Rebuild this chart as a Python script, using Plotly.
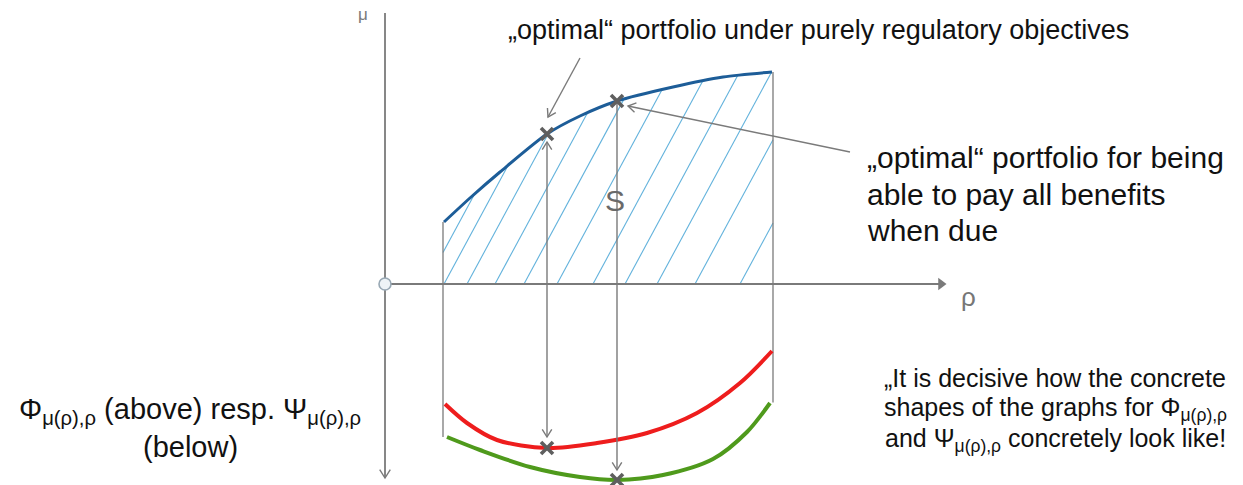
import numpy as np
import plotly.graph_objects as go

# Efficient frontier mu(rho) and the two objective curves (schematic units)
rho_blue = [5.9, 8.5, 11.5, 16.2, 19.5, 23.2, 28.8, 33.8, 38.7]
mu_blue = [6.2, 8.6, 11.2, 15.0, 16.8, 18.3, 19.7, 20.7, 21.2]

rho_red = [6.0, 8.2, 11.2, 16.2, 21.2, 26.2, 31.2, 35.5, 38.7]
phi_red = [-12.0, -13.9, -15.6, -16.4, -15.9, -14.9, -12.9, -9.9, -6.7]

rho_green = [6.2, 9.5, 14.5, 19.5, 23.2, 27.8, 32.8, 36.2, 38.5]
psi_green = [-15.3, -16.6, -18.3, -19.3, -19.6, -19.1, -17.5, -14.8, -11.9]

# optimal portfolios
rho_reg = 16.2   # minimum of Phi (regulatory objective)
rho_pay = 23.2   # minimum of Psi (paying all benefits)

# hatching of the admissible set S
hatch_starts = [4.1, 5.9, 8.2, 11.0, 13.9, 17.2, 20.8, 24.0, 27.2, 31.0, 35.5]
hatch_slope = 1.85

GRAY = "#7a7a7a"
DARK = "#5f5f5f"
FONT = "Liberation Sans, Arial, sans-serif"

fig = go.Figure()


def seg(xs, ys, color=GRAY, width=1.4):
    fig.add_trace(go.Scatter(x=xs, y=ys, mode="lines", hoverinfo="skip",
                             line=dict(color=color, width=width), showlegend=False))


def chevron(tip, frm, size=0.9, ang=32, color=GRAY, width=1.4):
    d = np.array(tip, float) - np.array(frm, float)
    d /= np.linalg.norm(d)
    pts = []
    for a in (ang, -ang):
        r = np.radians(a)
        rot = np.array([d[0] * np.cos(r) - d[1] * np.sin(r),
                        d[0] * np.sin(r) + d[1] * np.cos(r)])
        pts.append(np.array(tip) - size * rot)
    seg([pts[0][0], tip[0], pts[1][0]], [pts[0][1], tip[1], pts[1][1]], color, width)


def arrow(start, tip, **kw):
    seg([start[0], tip[0]], [start[1], tip[1]], **kw)
    chevron(tip, start, **kw)


xL, xR = 5.8, 38.8
fine = np.linspace(0, 40, 4001)
for x0 in hatch_starts:
    xs = x0 + fine
    ys = hatch_slope * fine
    ok = (xs >= xL) & (xs <= xR) & (ys <= np.interp(xs, rho_blue, mu_blue))
    if ok.any():
        idx = np.where(ok)[0]
        seg([xs[idx[0]], xs[idx[-1]]], [ys[idx[0]], ys[idx[-1]]], "#62b2dc", 1.1)

# axes
seg([0, 0], [27.1, -19.4], GRAY, 1.8)
chevron((0, -19.4), (0, 0), size=1.0)
seg([0, 55.5], [0, 0], GRAY, 2.0)
fig.add_trace(go.Scatter(x=[55.6], y=[0], mode="markers", hoverinfo="skip", showlegend=False,
                         marker=dict(symbol="triangle-right", size=11, color=GRAY)))
fig.add_trace(go.Scatter(x=[0], y=[0], mode="markers", hoverinfo="skip", showlegend=False,
                         marker=dict(symbol="circle", size=12, color="#eef3f6",
                                     line=dict(color="#98a8b4", width=1.6))))

# borders of S
seg([xL, xL], [mu_blue[0], psi_green[0]], GRAY, 1.3)
seg([xR, xR], [mu_blue[-1], psi_green[-1] + 0.05], GRAY, 1.3)

# curves
fig.add_trace(go.Scatter(x=rho_blue, y=mu_blue, mode="lines",
                         line=dict(color="#1d5d98", width=3, shape="spline", smoothing=0.8),
                         hoverinfo="skip", showlegend=False))
fig.add_trace(go.Scatter(x=rho_red, y=phi_red, mode="lines",
                         line=dict(color="#ee1d1d", width=4, shape="spline", smoothing=0.9),
                         hoverinfo="skip", showlegend=False))
fig.add_trace(go.Scatter(x=rho_green, y=psi_green, mode="lines",
                         line=dict(color="#4f9a1c", width=4, shape="spline", smoothing=0.9),
                         hoverinfo="skip", showlegend=False))

mu_reg = float(np.interp(rho_reg, rho_blue, mu_blue))
mu_pay = float(np.interp(rho_pay, rho_blue, mu_blue))
phi_min = float(np.interp(rho_reg, rho_red, phi_red))
psi_min = float(np.interp(rho_pay, rho_green, psi_green))

# connecting arrows between frontier and objective minima
seg([rho_reg, rho_reg], [mu_reg - 0.8, phi_min + 1.1])
chevron((rho_reg, mu_reg - 0.8), (rho_reg, 0))
chevron((rho_reg, phi_min + 1.1), (rho_reg, 0))
seg([rho_pay, rho_pay], [mu_pay, psi_min + 1.0])
chevron((rho_pay, psi_min + 1.0), (rho_pay, 0))

fig.add_trace(go.Scatter(x=[rho_reg, rho_pay, rho_reg, rho_pay],
                         y=[mu_reg, mu_pay, phi_min, psi_min],
                         mode="markers", hoverinfo="skip", showlegend=False,
                         marker=dict(symbol="x-thin", size=12, line=dict(color=DARK, width=3.6))))

# pointer arrows from the labels
arrow((19.5, 22.6), (16.3, 16.7))
arrow((46.5, 13.2), (24.3, 17.8))

annos = [
    dict(x=43.3, y=25.4, text="\u201eoptimal\u201c portfolio under purely regulatory objectives",
         size=27, xanchor="center"),
    dict(x=48.0, y=12.7, text="\u201eoptimal\u201c portfolio for being", size=30, xanchor="left"),
    dict(x=48.0, y=9.0, text="able to pay all benefits", size=30, xanchor="left"),
    dict(x=48.0, y=5.4, text="when due", size=30, xanchor="left"),
    dict(x=-19.5, y=-12.7,
         text="\u03a6<sub>\u03bc(\u03c1),\u03c1</sub> (above) resp. \u03a8<sub>\u03bc(\u03c1),\u03c1</sub>",
         size=29, xanchor="center"),
    dict(x=-19.5, y=-16.3, text="(below)", size=29, xanchor="center"),
    dict(x=67.0, y=-9.4, text="\u201eIt is decisive how the concrete", size=25, xanchor="center"),
    dict(x=67.0, y=-12.5,
         text="shapes of the graphs for \u03a6<sub>\u03bc(\u03c1),\u03c1</sub>", size=25, xanchor="center"),
    dict(x=67.0, y=-15.6,
         text="and \u03a8<sub>\u03bc(\u03c1),\u03c1</sub> concretely look like!", size=25, xanchor="center"),
]
for a in annos:
    fig.add_annotation(x=a["x"], y=a["y"], text=a["text"], showarrow=False,
                       xanchor=a["xanchor"], yanchor="middle",
                       font=dict(family=FONT, size=a["size"], color="#111111"))

fig.add_annotation(x=23.0, y=8.4, text="S", showarrow=False,
                   font=dict(family=FONT, size=30, color="#6a6a6a"))
fig.add_annotation(x=58.3, y=-1.3, text="\u03c1", showarrow=False,
                   font=dict(family=FONT, size=26, color="#777777"))
fig.add_annotation(x=-2.2, y=27.0, text="\u03bc", showarrow=False, yanchor="middle",
                   font=dict(family=FONT, size=17, color="#7a7a7a"))

fig.update_layout(
    width=1243, height=485,
    margin=dict(l=0, r=0, t=0, b=0),
    paper_bgcolor="white", plot_bgcolor="white",
    xaxis=dict(range=[-38.5, 85.8], visible=False, fixedrange=True),
    yaxis=dict(range=[-20.1, 28.4], visible=False, fixedrange=True),
)

fig.write_html("out.html")
